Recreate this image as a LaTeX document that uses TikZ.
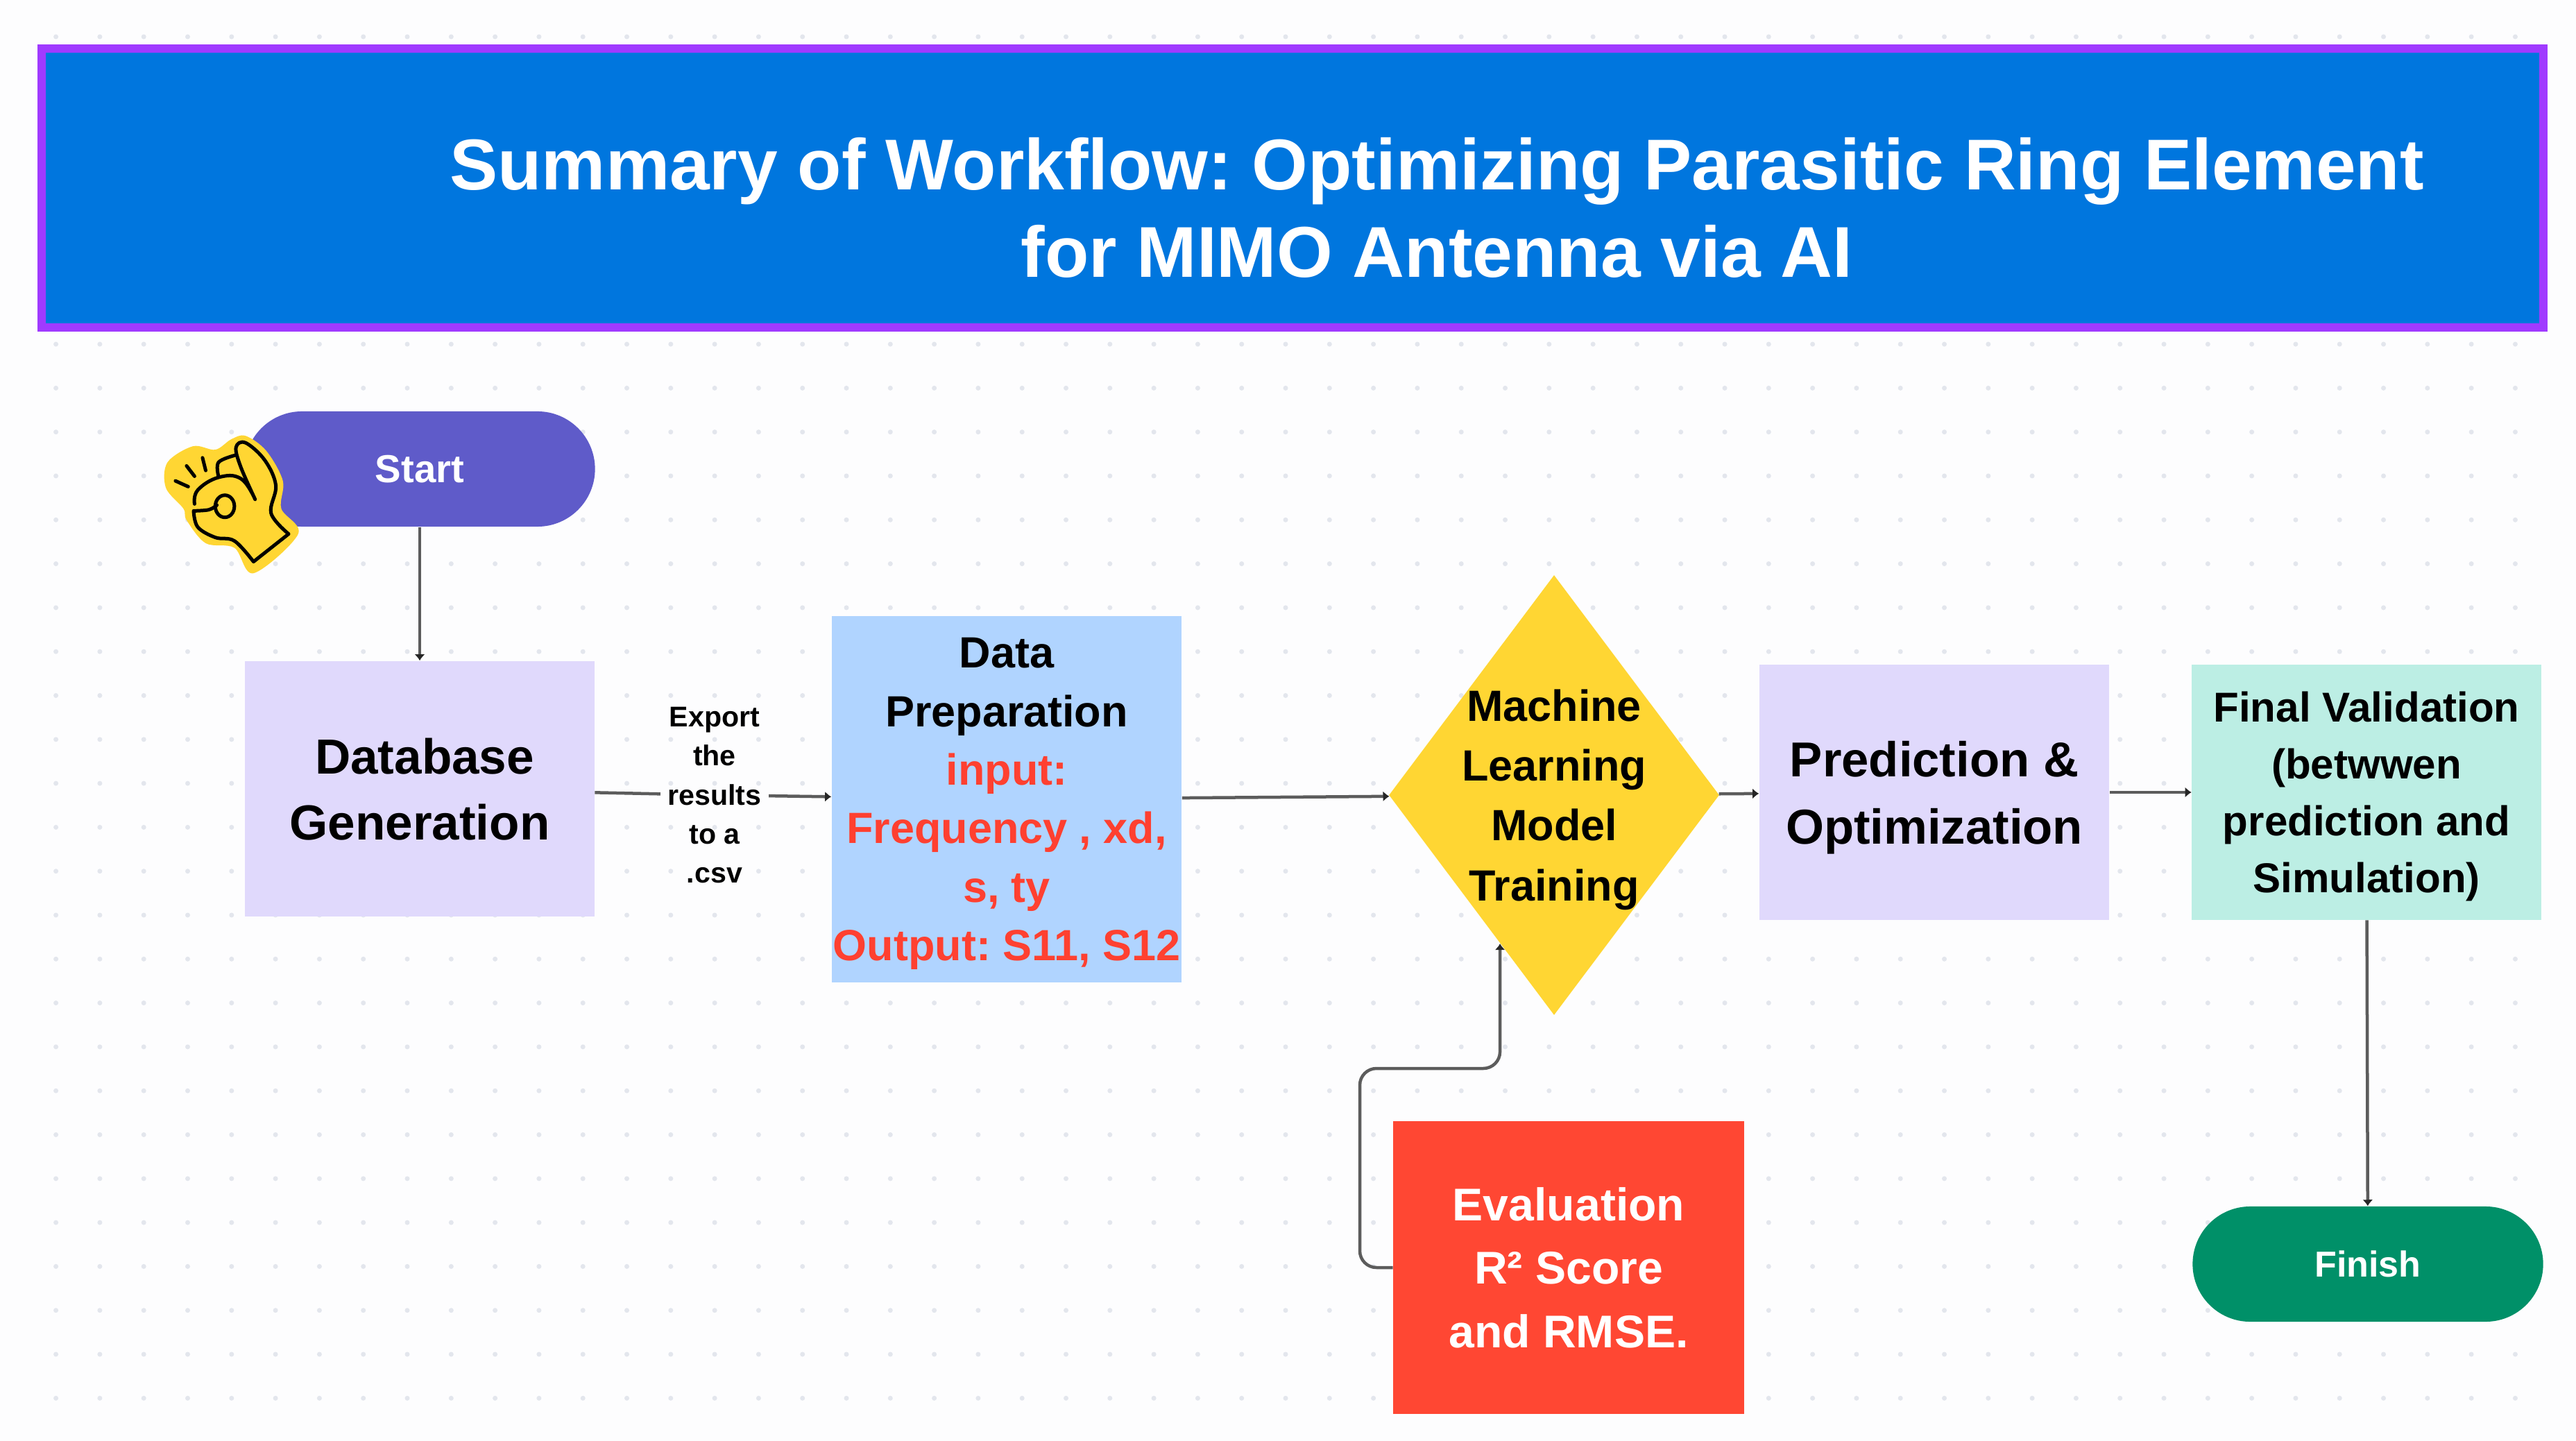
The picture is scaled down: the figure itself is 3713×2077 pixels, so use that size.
\documentclass[tikz,border=0pt]{standalone}
\usepackage{xcolor}
\usepackage{fontspec}
\setmainfont{Liberation Sans}
\usepackage{tikz}
\usetikzlibrary{
  arrows.meta,
  shapes.geometric
}
\definecolor{PageWhite}{HTML}{FDFDFE}
\definecolor{GridDot}{HTML}{E3E6ED}
\definecolor{TitleBlue}{HTML}{0076DE}
\definecolor{TitlePurple}{HTML}{A03AFF}
\definecolor{StartPurple}{HTML}{5F5BC9}
\definecolor{BoxLavender}{HTML}{E0D9FC}
\definecolor{BoxBlue}{HTML}{B0D4FF}
\definecolor{BoxYellow}{HTML}{FFD633}
\definecolor{BoxMint}{HTML}{BCEEE4}
\definecolor{BoxRed}{HTML}{FF4733}
\definecolor{TextRed}{HTML}{FF4030}
\definecolor{FinishGreen}{HTML}{009068}
\definecolor{LinkGrey}{HTML}{5C5C5C}
\newcommand{\pxfont}[2]{\frenchspacing\fontsize{#1}{#2}\selectfont\bfseries}

\begin{document}
\begin{tikzpicture}[
    x=0.01cm, y=-0.01cm,
    flowbox/.style={inner sep=0pt, align=center, text=black, text depth=0pt},
    pillbox/.style={flowbox, text=white, minimum width=5.05cm, minimum height=1.66cm, rounded corners=0.83cm, font=\pxfont{16}{20}},
    linkline/.style={LinkGrey, line width=0.045cm},
    linkarrow/.style={linkline, -{Latex[length=0.09cm,width=0.15cm,color=black!85]}}
  ]
    \useasboundingbox (0,0) rectangle (3713,2077);
    \fill[PageWhite] (0,0) rectangle (3713,2077);
    % dotted canvas
    \foreach \i in {0,...,56}{
      \foreach \j in {0,...,31}{
        \fill[GridDot] ({80.6+63.3*\i},{53+63.3*\j}) circle (0.035cm);
      }
    }
    % title banner
    \node[flowbox, fill=TitleBlue, draw=TitlePurple, line width=0.12cm, text=white,
      minimum width=36.04cm, minimum height=4.02cm] (banner) at (1863,271) {};
    \node[flowbox, text=white, font=\pxfont{29.5}{35.6}] (title) at (2071,299)
      {Summary of Workflow: Optimizing Parasitic Ring Element\\for MIMO Antenna via AI};
    % flow boxes
    \node[pillbox, fill=StartPurple] (start) at (605,676) {Start};
    \node[flowbox, fill=BoxLavender, minimum width=5.03cm, minimum height=3.68cm,
      font=\pxfont{20.2}{27}] (database) at (605,1137) {\hspace*{0.14cm}Database\\Generation};
    \node[flowbox, fill=BoxBlue, minimum width=5.04cm, minimum height=5.28cm,
      font=\pxfont{17.9}{24}] (data) at (1451,1152)
      {Data\\Preparation\\\textcolor{TextRed}{input:}\\\textcolor{TextRed}{Frequency , xd,}\\\textcolor{TextRed}{s, ty}\\\textcolor{TextRed}{Output: S11, S12}};
    \node[flowbox, diamond, fill=BoxYellow, inner xsep=-1cm, minimum width=4.76cm, minimum height=6.34cm,
      font=\pxfont{17.9}{24.5}] (training) at (2240,1146) {Machine\\Learning\\Model\\Training};
    \node[flowbox, fill=BoxLavender, minimum width=5.04cm, minimum height=3.67cm,
      font=\pxfont{20.1}{27.6}] (prediction) at (2788,1142) {Prediction \&\\Optimization};
    \node[flowbox, fill=BoxMint, minimum width=5.03cm, minimum height=3.67cm,
      font=\pxfont{17.1}{23.3}] (validation) at (3411,1142) {Final Validation\\(betwwen\\prediction and\\Simulation)};
    \node[flowbox, fill=BoxRed, text=white, minimum width=5.05cm, minimum height=4.22cm,
      font=\pxfont{18.8}{25.9}] (evaluation) at (2261,1827) {Evaluation\\R² Score\\and RMSE.};
    \node[pillbox, fill=FinishGreen, font=\pxfont{14.8}{18}] (finish) at (3413,1822) {Finish};
    \node[flowbox, inner xsep=0.1cm, font=\pxfont{11.7}{16}] (export) at (1030,1146) {Export\\the\\results\\to a\\.csv};
    % connectors
    \draw[linkarrow] (start) -- (database);
    \draw[linkline] (database) -- (export);
    \draw[linkarrow] (export) -- (data);
    \draw[linkarrow] (data) -- (training);
    \draw[linkarrow] (training) -- (prediction);
    \draw[linkarrow] (prediction) -- (validation);
    \draw[linkarrow] (validation) -- (finish);
    \draw[linkarrow, rounded corners=0.24cm] (evaluation.west) -| (1960,1540) -| (training.-110);
    % ok-hand sticker, in units of the crop it was measured from
    \begin{scope}[shift={(200,560)}, x=0.00459cm, y=-0.00333cm]
      \fill[BoxYellow] plot[smooth cycle, tension=0.55] coordinates {
        (335,205) (400,270) (452,400) (447,520) (500,630) (360,800) (300,690)
        (210,670) (150,570) (140,520) (85,430) (90,320) (170,250) (240,265) (290,220)};
      \draw[black, line width=0.05cm, line join=round, line cap=round]
        plot[smooth, tension=0.6] coordinates {(360,750) (300,660) (240,645) (185,600) (172,530)}
        plot[smooth, tension=0.6] coordinates {(172,530) (220,525) (245,505)}
        plot[smooth, tension=0.7] coordinates {(175,500) (185,440) (250,385) (320,390) (365,480)}
        plot[smooth, tension=0.6] coordinates {(250,380) (250,320) (300,290)}
        plot[smooth, tension=0.6] coordinates {(365,480) (320,340) (305,255) (335,235) (395,310) (430,420) (415,540) (470,630)}
        (470,630) -- (360,750)
        (115,400) -- (155,425) (150,335) -- (175,380) (200,300) -- (210,355);
      \draw[black, line width=0.05cm] (270,510) ellipse (30 and 48);
    \end{scope}
  \end{tikzpicture}
\end{document}
